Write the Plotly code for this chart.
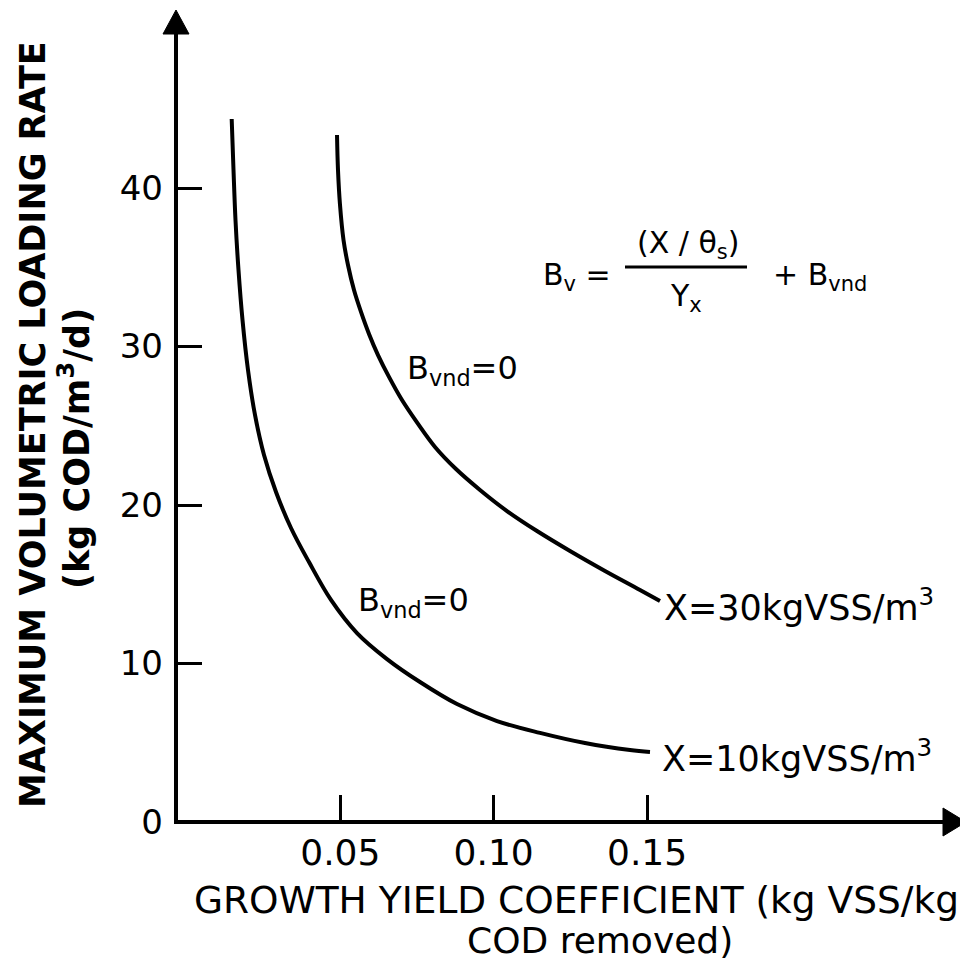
import plotly.graph_objects as go

# ---- data ----
yield_x10 = [0.01457, 0.01516, 0.01581, 0.01679, 0.01810, 0.01989, 0.02217, 0.02511,
             0.02902, 0.03391, 0.03978, 0.04695, 0.05543, 0.06521, 0.07597, 0.08803,
             0.10108, 0.11510, 0.12977, 0.14444, 0.15096]
rate_x10 = [44.35, 41.14, 37.98, 34.83, 31.67, 28.52, 25.68, 23.15,
            20.82, 18.55, 16.40, 14.01, 11.92, 10.28, 8.83, 7.44,
            6.37, 5.62, 4.98, 4.54, 4.42]

yield_x30 = [0.04891, 0.04923, 0.04989, 0.05103, 0.05249, 0.05445, 0.05673, 0.05934,
             0.06228, 0.06586, 0.07010, 0.07499, 0.08086, 0.08771, 0.09553, 0.10434,
             0.11412, 0.12488, 0.13629, 0.14770, 0.15422]
rate_x30 = [43.34, 41.14, 38.93, 36.72, 35.14, 33.56, 32.18, 30.79,
            29.46, 28.08, 26.62, 25.21, 23.66, 22.27, 20.95, 19.62,
            18.36, 17.10, 15.84, 14.64, 13.94]

x_tick_vals = [0.05, 0.10, 0.15]
x_tick_text = ["0.05", "0.10", "0.15"]
y_tick_vals = [0, 10, 20, 30, 40]
y_tick_text = ["0", "10", "20", "30", "40"]

label_x30 = "X=30kgVSS/m<sup>3</sup>"
label_x10 = "X=10kgVSS/m<sup>3</sup>"
label_bvnd = "B<sub>vnd</sub>=0"

# ---- layout geometry (page pixels; the page body adds an 8px margin) ----
OFF = 8
W, H = 968 - OFF, 962 - OFF
PLOT_L, PLOT_R, PLOT_T, PLOT_B = 176, 966, 10, 822   # plot area in page pixels
PW, PH = PLOT_R - PLOT_L, PLOT_B - PLOT_T


def px(xp):
    return (xp - PLOT_L) / PW


def py(yp):
    return (PLOT_B - yp) / PH


X_PER_UNIT, X_ZERO = 3067, 187     # x pixel scale of the reference
Y_PER_UNIT = 15.85                 # y pixel scale of the reference

FONT = "DejaVu Sans"
fig = go.Figure()

for xs, ys in ((yield_x10, rate_x10), (yield_x30, rate_x30)):
    fig.add_trace(go.Scatter(x=xs, y=ys, mode="lines",
                             line=dict(color="black", width=4, shape="spline", smoothing=1.0),
                             showlegend=False, hoverinfo="skip"))

fig.update_layout(
    width=W, height=H,
    margin=dict(l=PLOT_L - OFF, r=W - (PLOT_R - OFF), t=PLOT_T - OFF, b=H - (PLOT_B - OFF), pad=0),
    paper_bgcolor="white", plot_bgcolor="white",
    showlegend=False,
    xaxis=dict(range=[(PLOT_L - X_ZERO) / X_PER_UNIT, (PLOT_R - X_ZERO) / X_PER_UNIT],
               showgrid=False, zeroline=False, showline=False,
               tickmode="array", tickvals=x_tick_vals, ticktext=x_tick_text,
               ticks="inside", ticklen=27, tickwidth=3, tickcolor="black",
               tickfont=dict(family=FONT, size=36, color="black"),
               ticklabelstandoff=6),
    yaxis=dict(range=[0, PH / Y_PER_UNIT],
               showgrid=False, zeroline=False, showline=False,
               tickmode="array", tickvals=y_tick_vals, ticktext=y_tick_text,
               ticks="inside", ticklen=26, tickwidth=3, tickcolor="black",
               tickfont=dict(family=FONT, size=34, color="black"),
               ticklabelstandoff=12),
)

# axes with arrowheads
fig.add_shape(type="line", xref="paper", yref="paper", x0=px(176), y0=py(824), x1=px(176), y1=py(30),
              line=dict(color="black", width=4))
fig.add_shape(type="line", xref="paper", yref="paper", x0=px(174), y0=py(822), x1=px(950), y1=py(822),
              line=dict(color="black", width=4))
fig.add_shape(type="path", xref="paper", yref="paper",
              path=f"M {px(176)} {py(10)} L {px(163)} {py(34)} L {px(189)} {py(34)} Z",
              fillcolor="black", line=dict(color="black", width=1))
fig.add_shape(type="path", xref="paper", yref="paper",
              path=f"M {px(966)} {py(822)} L {px(943)} {py(808)} L {px(943)} {py(836)} Z",
              fillcolor="black", line=dict(color="black", width=1))


def ann(text, x, y, size, xanchor="center", yanchor="middle", bold=False, angle=0):
    fig.add_annotation(text=f"<b>{text}</b>" if bold else text, x=x, y=y,
                       xref="paper", yref="paper", showarrow=False,
                       xanchor=xanchor, yanchor=yanchor, textangle=angle,
                       font=dict(family=FONT, size=size, color="black"))


# curve-end labels
fig.add_annotation(text=label_x30, x=yield_x30[-1], y=rate_x30[-1], xref="x", yref="y",
                   showarrow=False, xanchor="left", yanchor="middle", xshift=2, yshift=-4,
                   font=dict(family=FONT, size=35, color="black"))
fig.add_annotation(text=label_x10, x=yield_x10[-1], y=rate_x10[-1], xref="x", yref="y",
                   showarrow=False, xanchor="left", yanchor="middle", xshift=10, yshift=-4,
                   font=dict(family=FONT, size=35, color="black"))

# B_vnd = 0 labels
ann(label_bvnd, px(462), py(370), 32)
ann(label_bvnd, px(413), py(602), 32)

# equation
ann("B<sub>v</sub> =", px(577), py(276), 30)
ann("(X / θ<sub>s</sub>)", px(688), py(244), 30)
ann("Y<sub>x</sub>", px(686), py(297), 30)
ann("+ B<sub>vnd</sub>", px(820), py(276), 30)
fig.add_shape(type="line", xref="paper", yref="paper", x0=px(625), y0=py(267), x1=px(747), y1=py(267),
              line=dict(color="black", width=3))

# axis titles
ann("GROWTH YIELD COEFFICIENT (kg VSS/kg", px(576), py(900), 37.5)
ann("COD removed)", px(600), py(940), 36)
ann("MAXIMUM VOLUMETRIC LOADING RATE", px(33), py(425), 35, bold=True, angle=-90)
ann("(kg COD/m<sup>3</sup>/d)", px(74), py(449), 35, bold=True, angle=-90)

fig.write_html("out.html")
